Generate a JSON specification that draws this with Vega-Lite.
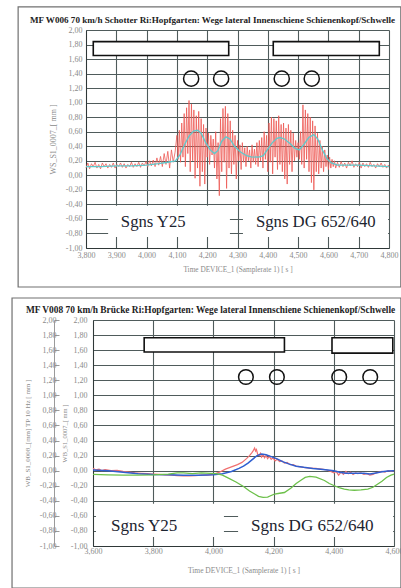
{
"$schema": "https://vega.github.io/schema/vega-lite/v6.json",
"padding": {"left": 11, "top": 6, "right": 0, "bottom": 0},
"background": "white",
"columns": 1,
"bounds": "full",
"spacing": 9,
"config": {
  "view": {"stroke": null},
  "axis": {"grid": true, "gridColor": "#4f5b5b", "gridWidth": 1.1, "ticks": false, "domainColor": "#2f3838", "labelFont": "Liberation Serif", "labelFontSize": 8, "labelColor": "#8a8a8a", "titleFont": "Liberation Serif", "titleFontSize": 7.5, "titleFontWeight": "normal", "titleColor": "#8a8a8a", "labelFlush": false, "labelOverlap": false}
},
"datasets": {
  "topFrame": [{"t": 3576, "t2": 4839, "v": 2.317, "v2": -1.537}],
  "topWhite": [{"t": 3873, "t2": 4275, "v": -0.42, "v2": -0.85}, {"t": 4318, "t2": 4797, "v": -0.42, "v2": -0.85}],
  "topBoxes": [{"t": 3824, "t2": 4271, "v": 1.84, "v2": 1.65}, {"t": 4418, "t2": 4768, "v": 1.84, "v2": 1.65}],
  "topCircles": [{"t": 4147, "v": 1.33}, {"t": 4246, "v": 1.33}, {"t": 4446, "v": 1.33}, {"t": 4545, "v": 1.33}],
  "topText": [{"t": 3915, "v": -0.645, "label": "Sgns Y25"}, {"t": 4361, "v": -0.645, "label": "Sgns DG 652/640"}],
  "topTitle": [{"t": 3615, "v": 2.138, "label": "MF W006 70 km/h Schotter Ri:Hopfgarten: Wege lateral Innenschiene Schienenkopf/Schwelle"}],
  "topRed": [
    {"t":3800,"v":0.10},{"t":3806,"v":0.17},{"t":3812,"v":0.09},{"t":3818,"v":0.16},{"t":3824,"v":0.12},{"t":3830,"v":0.18},{"t":3836,"v":0.10},{"t":3842,"v":0.15},{"t":3848,"v":0.09},{"t":3854,"v":0.17},
    {"t":3860,"v":0.12},{"t":3866,"v":0.16},{"t":3872,"v":0.10},{"t":3878,"v":0.15},{"t":3884,"v":0.11},{"t":3890,"v":0.17},{"t":3896,"v":0.10},{"t":3902,"v":0.15},{"t":3908,"v":0.12},{"t":3914,"v":0.17},
    {"t":3920,"v":0.11},{"t":3926,"v":0.16},{"t":3932,"v":0.10},{"t":3938,"v":0.15},{"t":3944,"v":0.12},{"t":3950,"v":0.18},{"t":3956,"v":0.11},{"t":3962,"v":0.16},{"t":3968,"v":0.12},{"t":3974,"v":0.18},
    {"t":3980,"v":0.11},{"t":3986,"v":0.17},{"t":3992,"v":0.13},{"t":3998,"v":0.19},{"t":4004,"v":0.12},{"t":4010,"v":0.20},{"t":4016,"v":0.13},{"t":4022,"v":0.21},{"t":4028,"v":0.12},{"t":4034,"v":0.24},
    {"t":4040,"v":0.14},{"t":4046,"v":0.26},{"t":4052,"v":0.12},{"t":4058,"v":0.30},{"t":4064,"v":0.15},{"t":4070,"v":0.33},{"t":4076,"v":0.10},{"t":4082,"v":0.35},{"t":4088,"v":0.18},{"t":4094,"v":0.32},
    {"t":4100,"v":0.55},{"t":4104,"v":0.22},{"t":4108,"v":0.62},{"t":4112,"v":0.18},{"t":4116,"v":0.72},{"t":4120,"v":0.25},{"t":4124,"v":0.85},{"t":4128,"v":0.12},{"t":4132,"v":0.93},{"t":4136,"v":0.30},
    {"t":4140,"v":1.03},{"t":4144,"v":0.05},{"t":4148,"v":0.98},{"t":4152,"v":0.20},{"t":4156,"v":0.90},{"t":4160,"v":-0.04},{"t":4164,"v":0.82},{"t":4168,"v":0.10},{"t":4172,"v":0.88},{"t":4176,"v":-0.15},
    {"t":4180,"v":0.78},{"t":4184,"v":0.05},{"t":4188,"v":0.70},{"t":4192,"v":-0.12},{"t":4196,"v":0.65},{"t":4200,"v":0.25},{"t":4204,"v":0.58},{"t":4208,"v":0.15},{"t":4212,"v":0.55},{"t":4216,"v":0.28},
    {"t":4220,"v":0.50},{"t":4224,"v":0.10},{"t":4228,"v":0.60},{"t":4232,"v":-0.05},{"t":4236,"v":0.45},{"t":4240,"v":-0.28},{"t":4244,"v":0.78},{"t":4248,"v":0.05},{"t":4252,"v":0.92},{"t":4256,"v":0.18},
    {"t":4260,"v":0.95},{"t":4264,"v":-0.18},{"t":4268,"v":0.85},{"t":4272,"v":0.10},{"t":4276,"v":0.75},{"t":4280,"v":0.02},{"t":4284,"v":0.62},{"t":4288,"v":0.15},{"t":4292,"v":0.55},{"t":4296,"v":-0.05},
    {"t":4300,"v":0.48},{"t":4304,"v":0.20},{"t":4308,"v":0.42},{"t":4312,"v":0.08},{"t":4316,"v":0.45},{"t":4320,"v":0.18},{"t":4324,"v":0.38},{"t":4328,"v":0.12},{"t":4332,"v":0.40},{"t":4336,"v":0.20},
    {"t":4340,"v":0.35},{"t":4344,"v":0.10},{"t":4348,"v":0.42},{"t":4352,"v":0.18},{"t":4356,"v":0.36},{"t":4360,"v":0.15},{"t":4364,"v":0.45},{"t":4368,"v":0.12},{"t":4372,"v":0.48},{"t":4376,"v":0.20},
    {"t":4380,"v":0.52},{"t":4384,"v":0.10},{"t":4388,"v":0.60},{"t":4392,"v":0.22},{"t":4396,"v":0.55},{"t":4400,"v":0.05},{"t":4404,"v":0.72},{"t":4408,"v":0.18},{"t":4412,"v":0.80},{"t":4416,"v":0.02},
    {"t":4420,"v":0.78},{"t":4424,"v":0.25},{"t":4428,"v":0.75},{"t":4432,"v":0.08},{"t":4436,"v":0.82},{"t":4440,"v":0.15},{"t":4444,"v":0.70},{"t":4448,"v":0.05},{"t":4452,"v":0.72},{"t":4456,"v":-0.05},
    {"t":4460,"v":0.65},{"t":4464,"v":-0.12},{"t":4468,"v":0.70},{"t":4472,"v":0.15},{"t":4476,"v":0.62},{"t":4480,"v":0.05},{"t":4484,"v":0.58},{"t":4488,"v":0.20},{"t":4492,"v":0.48},{"t":4496,"v":0.25},
    {"t":4500,"v":0.45},{"t":4504,"v":0.22},{"t":4508,"v":0.60},{"t":4512,"v":0.15},{"t":4516,"v":0.97},{"t":4520,"v":0.10},{"t":4524,"v":0.90},{"t":4528,"v":0.22},{"t":4532,"v":0.85},{"t":4536,"v":0.05},
    {"t":4540,"v":0.80},{"t":4544,"v":-0.10},{"t":4548,"v":0.75},{"t":4552,"v":-0.20},{"t":4556,"v":0.68},{"t":4560,"v":0.05},{"t":4564,"v":0.58},{"t":4568,"v":0.02},{"t":4572,"v":0.48},{"t":4576,"v":0.10},
    {"t":4580,"v":0.40},{"t":4584,"v":0.05},{"t":4588,"v":0.35},{"t":4592,"v":0.12},{"t":4596,"v":0.28},{"t":4600,"v":0.08},{"t":4604,"v":0.25},{"t":4608,"v":0.10},{"t":4612,"v":0.22},{"t":4616,"v":0.12},
    {"t":4620,"v":0.20},{"t":4624,"v":0.10},{"t":4630,"v":0.18},{"t":4636,"v":0.11},{"t":4642,"v":0.19},{"t":4648,"v":0.12},{"t":4654,"v":0.17},{"t":4660,"v":0.10},{"t":4666,"v":0.18},{"t":4672,"v":0.13},
    {"t":4678,"v":0.20},{"t":4684,"v":0.11},{"t":4690,"v":0.16},{"t":4696,"v":0.12},{"t":4702,"v":0.18},{"t":4708,"v":0.10},{"t":4714,"v":0.17},{"t":4720,"v":0.12},{"t":4726,"v":0.16},{"t":4732,"v":0.11},
    {"t":4738,"v":0.18},{"t":4744,"v":0.12},{"t":4750,"v":0.15},{"t":4756,"v":0.10},{"t":4762,"v":0.16},{"t":4768,"v":0.12},{"t":4774,"v":0.17},{"t":4780,"v":0.11},{"t":4786,"v":0.15},{"t":4792,"v":0.10},
    {"t":4798,"v":0.14},{"t":4800,"v":0.12}
  ],
  "topCyan": [
    {"t":3800,"v":0.12},{"t":3850,"v":0.12},{"t":3900,"v":0.13},{"t":3950,"v":0.13},{"t":4000,"v":0.14},{"t":4040,"v":0.16},{"t":4070,"v":0.18},{"t":4095,"v":0.20},{"t":4110,"v":0.28},{"t":4125,"v":0.42},
    {"t":4140,"v":0.54},{"t":4155,"v":0.61},{"t":4168,"v":0.62},{"t":4180,"v":0.58},{"t":4195,"v":0.45},{"t":4210,"v":0.35},{"t":4224,"v":0.30},{"t":4235,"v":0.34},{"t":4248,"v":0.47},{"t":4262,"v":0.53},
    {"t":4275,"v":0.50},{"t":4290,"v":0.40},{"t":4310,"v":0.32},{"t":4330,"v":0.27},{"t":4345,"v":0.255},{"t":4370,"v":0.25},{"t":4385,"v":0.27},{"t":4400,"v":0.36},{"t":4415,"v":0.45},{"t":4430,"v":0.51},
    {"t":4440,"v":0.52},{"t":4455,"v":0.50},{"t":4475,"v":0.43},{"t":4490,"v":0.37},{"t":4504,"v":0.35},{"t":4520,"v":0.43},{"t":4535,"v":0.52},{"t":4552,"v":0.56},{"t":4565,"v":0.50},{"t":4580,"v":0.35},
    {"t":4595,"v":0.23},{"t":4610,"v":0.17},{"t":4630,"v":0.14},{"t":4660,"v":0.14},{"t":4700,"v":0.14},{"t":4750,"v":0.13},{"t":4800,"v":0.12}
  ],
  "botFrame": [{"t": 3331, "t2": 4623, "v": 2.292, "v2": -1.558}],
  "botWhite": [{"t": 3610, "t2": 4035, "v": -0.44, "v2": -0.88}, {"t": 4082, "t2": 4597, "v": -0.44, "v2": -0.88}],
  "botBoxes": [{"t": 3770, "t2": 4236, "v": 1.765, "v2": 1.575}, {"t": 4394, "t2": 4596, "v": 1.765, "v2": 1.56}],
  "botCircles": [{"t": 4108, "v": 1.243}, {"t": 4211, "v": 1.243}, {"t": 4418, "v": 1.243}, {"t": 4521, "v": 1.243}],
  "botText": [{"t": 3660, "v": -0.736, "label": "Sgns Y25"}, {"t": 4125, "v": -0.736, "label": "Sgns DG 652/640"}],
  "botTitle": [{"t": 3377, "v": 2.133, "label": "MF V008 70 km/h Brücke Ri:Hopfgarten: Wege lateral Innenschiene Schienenkopf/Schwelle"}],
  "botBlue": [
    {"t":3600,"v":0.01},{"t":3650,"v":0.0},{"t":3700,"v":-0.02},{"t":3750,"v":-0.04},{"t":3800,"v":-0.05},{"t":3850,"v":-0.055},{"t":3900,"v":-0.06},{"t":3950,"v":-0.06},{"t":4000,"v":-0.055},{"t":4030,"v":-0.04},
    {"t":4060,"v":-0.01},{"t":4085,"v":0.03},{"t":4100,"v":0.06},{"t":4115,"v":0.10},{"t":4130,"v":0.15},{"t":4145,"v":0.20},{"t":4160,"v":0.22},{"t":4175,"v":0.21},{"t":4190,"v":0.19},{"t":4210,"v":0.16},
    {"t":4230,"v":0.12},{"t":4250,"v":0.09},{"t":4275,"v":0.06},{"t":4300,"v":0.045},{"t":4330,"v":0.03},{"t":4356,"v":0.02},{"t":4380,"v":0.01},{"t":4400,"v":0.0},{"t":4420,"v":-0.02},{"t":4440,"v":-0.035},
    {"t":4470,"v":-0.035},{"t":4500,"v":-0.035},{"t":4520,"v":-0.045},{"t":4540,"v":-0.03},{"t":4560,"v":-0.015},{"t":4580,"v":-0.005},{"t":4600,"v":0.0}
  ],
  "botRed": [
    {"t":3600,"v":0.03},{"t":3610,"v":0.01},{"t":3620,"v":0.02},{"t":3630,"v":0.0},{"t":3640,"v":0.015},{"t":3660,"v":0.0},{"t":3680,"v":0.005},{"t":3700,"v":-0.01},{"t":3720,"v":-0.02},{"t":3740,"v":-0.03},
    {"t":3760,"v":-0.035},{"t":3780,"v":-0.04},{"t":3800,"v":-0.045},{"t":3820,"v":-0.05},{"t":3840,"v":-0.055},{"t":3860,"v":-0.06},{"t":3880,"v":-0.065},{"t":3900,"v":-0.07},{"t":3920,"v":-0.07},{"t":3940,"v":-0.065},
    {"t":3960,"v":-0.06},{"t":3980,"v":-0.06},{"t":4000,"v":-0.05},{"t":4020,"v":-0.02},{"t":4040,"v":0.02},{"t":4060,"v":0.05},{"t":4080,"v":0.08},{"t":4095,"v":0.11},{"t":4110,"v":0.16},{"t":4120,"v":0.20},
    {"t":4128,"v":0.24},{"t":4133,"v":0.27},{"t":4137,"v":0.30},{"t":4140,"v":0.26},{"t":4143,"v":0.28},{"t":4147,"v":0.22},{"t":4152,"v":0.20},{"t":4156,"v":0.23},{"t":4160,"v":0.18},{"t":4165,"v":0.21},
    {"t":4170,"v":0.17},{"t":4175,"v":0.20},{"t":4180,"v":0.16},{"t":4186,"v":0.19},{"t":4192,"v":0.15},{"t":4198,"v":0.17},{"t":4205,"v":0.13},{"t":4212,"v":0.15},{"t":4220,"v":0.12},{"t":4228,"v":0.13},
    {"t":4236,"v":0.10},{"t":4245,"v":0.11},{"t":4255,"v":0.08},{"t":4265,"v":0.08},{"t":4275,"v":0.06},{"t":4290,"v":0.05},{"t":4305,"v":0.04},{"t":4320,"v":0.035},{"t":4340,"v":0.03},{"t":4360,"v":0.02},
    {"t":4375,"v":0.01},{"t":4390,"v":-0.01},{"t":4400,"v":-0.03},{"t":4408,"v":-0.01},{"t":4416,"v":-0.06},{"t":4424,"v":-0.02},{"t":4432,"v":-0.05},{"t":4440,"v":-0.01},{"t":4448,"v":-0.04},{"t":4456,"v":-0.02},
    {"t":4464,"v":-0.05},{"t":4472,"v":-0.03},{"t":4480,"v":-0.04},{"t":4490,"v":-0.03},{"t":4500,"v":-0.05},{"t":4510,"v":-0.04},{"t":4520,"v":-0.06},{"t":4530,"v":-0.05},{"t":4540,"v":-0.03},{"t":4550,"v":-0.02},
    {"t":4560,"v":-0.01},{"t":4570,"v":-0.02},{"t":4580,"v":0.0},{"t":4590,"v":-0.01},{"t":4600,"v":0.0}
  ],
  "botGreen": [
    {"t":3600,"v":-0.05},{"t":3650,"v":-0.055},{"t":3700,"v":-0.06},{"t":3750,"v":-0.06},{"t":3800,"v":-0.055},{"t":3850,"v":-0.045},{"t":3880,"v":-0.03},{"t":3900,"v":-0.03},{"t":3930,"v":-0.04},{"t":3960,"v":-0.03},
    {"t":3990,"v":-0.035},{"t":4010,"v":-0.04},{"t":4030,"v":-0.06},{"t":4050,"v":-0.10},{"t":4075,"v":-0.15},{"t":4100,"v":-0.21},{"t":4120,"v":-0.27},{"t":4137,"v":-0.31},{"t":4150,"v":-0.34},{"t":4165,"v":-0.355},
    {"t":4180,"v":-0.35},{"t":4203,"v":-0.31},{"t":4220,"v":-0.30},{"t":4236,"v":-0.29},{"t":4258,"v":-0.23},{"t":4275,"v":-0.17},{"t":4292,"v":-0.125},{"t":4305,"v":-0.09},{"t":4320,"v":-0.075},{"t":4341,"v":-0.085},
    {"t":4369,"v":-0.13},{"t":4385,"v":-0.17},{"t":4402,"v":-0.20},{"t":4420,"v":-0.23},{"t":4435,"v":-0.245},{"t":4450,"v":-0.255},{"t":4468,"v":-0.26},{"t":4490,"v":-0.255},{"t":4513,"v":-0.245},{"t":4530,"v":-0.22},
    {"t":4545,"v":-0.18},{"t":4560,"v":-0.14},{"t":4575,"v":-0.09},{"t":4590,"v":-0.06},{"t":4600,"v":-0.045}
  ]
},
"concat": [
  {
    "width": 303,
    "height": 218,
    "encoding": {
      "x": {"field": "t", "type": "quantitative", "scale": {"domain": [3800, 4800], "nice": false, "zero": false, "range": [-7, 296]},
            "axis": {"values": [3800, 3900, 4000, 4100, 4200, 4300, 4400, 4500, 4600, 4700, 4800], "format": ",d", "labelPadding": 3, "title": "Time DEVICE_1 (Samplerate 1) [ s ]", "titleFontSize": 7.3, "titlePadding": 6}},
      "y": {"field": "v", "type": "quantitative", "scale": {"domain": [-1, 2], "nice": false, "zero": false},
            "axis": {"offset": 7, "values": [-1, -0.8, -0.6, -0.4, -0.2, 0, 0.2, 0.4, 0.6, 0.8, 1, 1.2, 1.4, 1.6, 1.8, 2], "labelExpr": "replace(replace(format(datum.value, '.2f'), '.', ','), '\u2212', '-')", "labelPadding": 4, "title": "WS_S1_0007_[ mm ]", "titleFontSize": 8, "titlePadding": 8}}
    },
    "layer": [
      {"data": {"name": "topFrame"}, "mark": {"type": "rect", "fillOpacity": 0, "stroke": "#707070", "strokeWidth": 1.2}, "encoding": {"x2": {"field": "t2"}, "y2": {"field": "v2"}}},
      {"data": {"name": "topWhite"}, "mark": {"type": "rect", "fill": "white"}, "encoding": {"x2": {"field": "t2"}, "y2": {"field": "v2"}}},
      {"data": {"name": "topRed"}, "mark": {"type": "line", "color": "#ee5a55", "strokeWidth": 0.8}},
      {"data": {"name": "topCyan"}, "mark": {"type": "line", "color": "#5ec9cc", "strokeWidth": 1.3}},
      {"data": {"name": "topBoxes"}, "mark": {"type": "rect", "fill": "white", "stroke": "#111111", "strokeWidth": 1.6}, "encoding": {"x2": {"field": "t2"}, "y2": {"field": "v2"}}},
      {"data": {"name": "topCircles"}, "mark": {"type": "point", "shape": "circle", "filled": false, "color": "#111111", "strokeWidth": 1.5, "size": 230, "opacity": 1}},
      {"data": {"name": "topText"}, "mark": {"type": "text", "align": "left", "baseline": "middle", "font": "Liberation Serif", "fontSize": 16.7, "color": "#1c2430"}, "encoding": {"text": {"field": "label"}}},
      {"data": {"name": "topTitle"}, "mark": {"type": "text", "align": "left", "baseline": "middle", "font": "Liberation Serif", "fontSize": 9.1, "fontWeight": "bold", "color": "#222222"}, "encoding": {"text": {"field": "label"}}}
    ]
  },
  {
    "width": 301,
    "height": 226,
    "layer": [
      {
        "encoding": {
          "x": {"field": "t", "type": "quantitative", "scale": {"domain": [3600, 4600], "nice": false, "zero": false},
                "axis": {"values": [3600, 3700, 3800, 3900, 4000, 4100, 4200, 4300, 4400, 4500, 4600], "format": ",d", "labelPadding": 1, "title": "Time DEVICE_1 (Samplerate 1) [ s ]", "titlePadding": 11}},
          "y": {"field": "v", "type": "quantitative", "scale": {"domain": [-1, 2], "nice": false, "zero": false},
                "axis": {"values": [-1, -0.8, -0.6, -0.4, -0.2, 0, 0.2, 0.4, 0.6, 0.8, 1, 1.2, 1.4, 1.6, 1.8, 2], "labelExpr": "replace(replace(format(datum.value, '.2f'), '.', ','), '\u2212', '-')", "labelPadding": 6, "title": "WB_S1_0007_[ mm ]", "titleFontSize": 6.5, "titlePadding": 3}}
        },
        "layer": [
          {"data": {"name": "botFrame"}, "mark": {"type": "rect", "fillOpacity": 0, "stroke": "#707070", "strokeWidth": 1.2}, "encoding": {"x2": {"field": "t2"}, "y2": {"field": "v2"}}},
          {"data": {"name": "botWhite"}, "mark": {"type": "rect", "fill": "white"}, "encoding": {"x2": {"field": "t2"}, "y2": {"field": "v2"}}},
          {"data": {"name": "botRed"}, "mark": {"type": "line", "color": "#f07070", "strokeWidth": 1.2}},
          {"data": {"name": "botBlue"}, "mark": {"type": "line", "color": "#2f5fd0", "strokeWidth": 1.5}},
          {"data": {"name": "botBoxes"}, "mark": {"type": "rect", "fill": "white", "stroke": "#111111", "strokeWidth": 1.6}, "encoding": {"x2": {"field": "t2"}, "y2": {"field": "v2"}}},
          {"data": {"name": "botCircles"}, "mark": {"type": "point", "shape": "circle", "filled": false, "color": "#111111", "strokeWidth": 1.5, "size": 215, "opacity": 1}},
          {"data": {"name": "botText"}, "mark": {"type": "text", "align": "left", "baseline": "middle", "font": "Liberation Serif", "fontSize": 17.1, "color": "#1c2430"}, "encoding": {"text": {"field": "label"}}},
          {"data": {"name": "botTitle"}, "mark": {"type": "text", "align": "left", "baseline": "middle", "font": "Liberation Serif", "fontSize": 9.4, "fontWeight": "bold", "color": "#222222"}, "encoding": {"text": {"field": "label"}}}
        ]
      },
      {
        "data": {"name": "botGreen"},
        "mark": {"type": "line", "color": "#6cc04a", "strokeWidth": 1.3},
        "encoding": {
          "x": {"field": "t", "type": "quantitative", "scale": {"domain": [3600, 4600], "nice": false, "zero": false}},
          "y": {"field": "v", "type": "quantitative", "scale": {"domain": [-1, 2], "nice": false, "zero": false},
                "axis": {"orient": "left", "offset": 39, "grid": false, "ticks": true, "tickSize": -5, "tickColor": "#9a9a9a", "domainColor": "#9a9a9a", "values": [-1, -0.8, -0.6, -0.4, -0.2, 0, 0.2, 0.4, 0.6, 0.8, 1, 1.2, 1.4, 1.6, 1.8, 2], "labelExpr": "replace(replace(format(datum.value, '.2f'), '.', ','), '\u2212', '-')", "labelPadding": 3, "title": "WB_S1_0008_[mm] TP 10 Hz [ mm ]", "titleFontSize": 7, "titlePadding": 9}}
        }
      }
    ],
    "resolve": {"scale": {"y": "independent"}, "axis": {"y": "independent"}}
  }
]
}
